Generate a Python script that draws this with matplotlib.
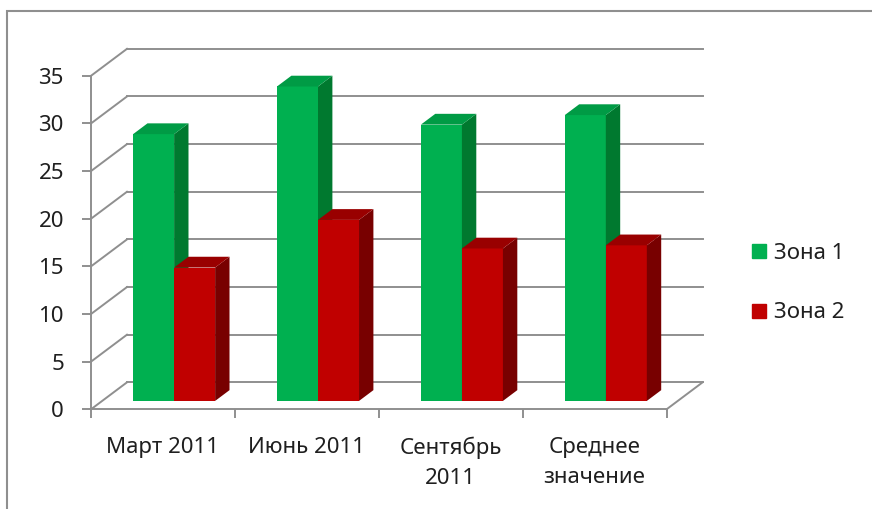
#!/usr/bin/env python3
"""Зона 1 / Зона 2 column chart drawn with an oblique 3D look."""

import matplotlib
matplotlib.use("Agg")
import matplotlib.pyplot as plt
from matplotlib.lines import Line2D
from matplotlib.patches import Polygon, Rectangle
import numpy as np

plt.rcParams["font.family"] = ["Noto Sans", "DejaVu Sans"]

CATEGORIES = ["Март 2011", "Июнь 2011", "Сентябрь\n2011", "Среднее\nзначение"]
SERIES = ["Зона 1", "Зона 2"]
ZONE_1 = [28, 33, 29, 30]
ZONE_2 = [14, 19, 16, 16.33]
Y_TICKS = [0, 5, 10, 15, 20, 25, 30, 35]

GREEN = ("#00B050", "#00792F", "#009B45")   # front, side, top
RED = ("#C00000", "#780000", "#990000")
GRID = "#8F8F8F"
TEXT = "#1F1F1F"

# depth of the box in data units (x: categories, y: values)
DX, DY = 0.25, 2.83
BAR_W = 0.285
BAR_D0, BAR_D1 = 0.31, 0.71


def draw_bars(ax, values, offset, colors, z):
  x = np.arange(len(values)) + 0.5 + offset + BAR_D0 * DX
  base = BAR_D0 * DY
  dx = (BAR_D1 - BAR_D0) * DX
  dy = (BAR_D1 - BAR_D0) * DY
  ax.bar(x, values, width=BAR_W, bottom=base, align="edge", color=colors[0],
         linewidth=0, zorder=z, clip_on=False)
  for left, v in zip(x, values):
    right = left + BAR_W
    top = base + v
    side = [(right, base), (right + dx, base + dy), (right + dx, top + dy), (right, top)]
    roof = [(left, top), (right, top), (right + dx, top + dy), (left + dx, top + dy)]
    ax.add_patch(Polygon(side, closed=True, color=colors[1], lw=0, zorder=z, clip_on=False))
    ax.add_patch(Polygon(roof, closed=True, color=colors[2], lw=0, zorder=z, clip_on=False))


fig = plt.figure(figsize=(8.72, 5.09), dpi=100)
fig.patch.set_facecolor("white")

# chart area outline
fig.patches.append(Rectangle((7 / 872, -0.1), 1.2, 1.1 - 11 / 509, transform=fig.transFigure,
                             fill=False, edgecolor=GRID, lw=1.5))

ax = fig.add_axes([91 / 872, 99.7 / 509, 575.6 / 872, 333.5 / 509])
ax.set_xlim(0, len(CATEGORIES))
ax.set_ylim(0, Y_TICKS[-1])
ax.set_facecolor("none")

# back wall gridlines and side wall diagonals
n = len(CATEGORIES)
for v in Y_TICKS:
  ax.plot([DX, n + DX], [v + DY, v + DY], color=GRID, lw=1.4, zorder=1, clip_on=False)
  ax.plot([0, DX], [v, v + DY], color=GRID, lw=1.4, zorder=1, clip_on=False)
# floor right edge
ax.plot([n, n + DX], [0, DY], color=GRID, lw=1.4, zorder=1, clip_on=False)

draw_bars(ax, ZONE_1, -BAR_W, GREEN, 3)
draw_bars(ax, ZONE_2, 0, RED, 4)

for side in ("top", "right"):
  ax.spines[side].set_visible(False)
for side in ("left", "bottom"):
  ax.spines[side].set_color(GRID)
  ax.spines[side].set_linewidth(1.4)

ax.set_yticks(Y_TICKS)
ax.set_xticks(np.arange(n + 1))
ax.set_xticklabels([])
ax.set_xticks(np.arange(n) + 0.5, minor=True)
ax.set_xticklabels(CATEGORIES, minor=True)
ax.tick_params(axis="y", direction="out", length=6.5, width=1.4, color=GRID,
               pad=13, labelsize=16, labelcolor=TEXT)
ax.tick_params(axis="x", which="major", direction="out", length=6.5, width=1.4, color=GRID)
ax.tick_params(axis="x", which="minor", length=0, pad=20, labelsize=16, labelcolor=TEXT)
for lbl in ax.get_xticklabels(minor=True):
  lbl.set_linespacing(1.55)

handles = [
    Line2D([], [], marker="s", linestyle="", markersize=10, color=GREEN[0]),
    Line2D([], [], marker="s", linestyle="", markersize=10, color=RED[0]),
]
fig.legend(handles, SERIES, loc="center left", bbox_to_anchor=(751 / 872, 226 / 509),
           frameon=False, fontsize=16, handlelength=0.7, handletextpad=0.35,
           labelspacing=1.75, borderpad=0, borderaxespad=0, labelcolor=TEXT)

fig.savefig("out.png", dpi=100)
